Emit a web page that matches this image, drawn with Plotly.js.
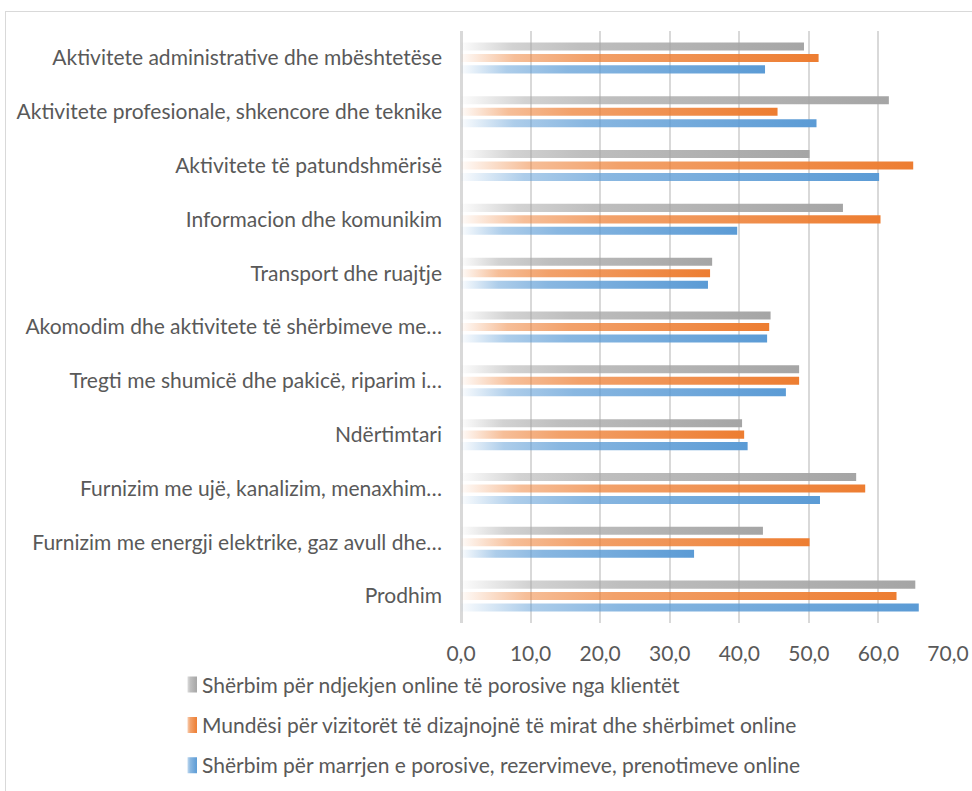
<!DOCTYPE html>
<html>
<head>
<meta charset="utf-8">
<script src="https://cdn.plot.ly/plotly-3.0.1.min.js"></script>
<style>
  html, body { margin: 0; padding: 0; background: #fff; }
  #wrap { position: relative; width: 972px; height: 791px; }
  #chart { width: 972px; height: 791px; }
  #frame { position: absolute; left: 5px; top: 11px; right: -2px; bottom: -2px;
           border-left: 1.5px solid #d9d9d9; border-top: 1.5px solid #d9d9d9; pointer-events: none; }
</style>
</head>
<body>
<div id="wrap">
  <div id="chart"></div>
  <div id="frame"></div>
</div>
<script>
// Categories listed bottom to top (as in the source chart)
const categories = [
  "Prodhim",
  "Furnizim me energji elektrike, gaz avull dhe…",
  "Furnizim me ujë, kanalizim, menaxhim…",
  "Ndërtimtari",
  "Tregti me shumicë dhe pakicë, riparim i…",
  "Akomodim dhe aktivitete të shërbimeve me…",
  "Transport dhe ruajtje",
  "Informacion dhe komunikim",
  "Aktivitete të patundshmërisë",
  "Aktivitete profesionale, shkencore dhe teknike",
  "Aktivitete administrative dhe mbështetëse"
];

const seriesNames = [
  "Shërbim për marrjen e porosive, rezervimeve, prenotimeve online",
  "Mundësi për vizitorët të dizajnojnë të mirat dhe shërbimet online",
  "Shërbim për ndjekjen online të porosive nga klientët"
];

const orderBooking = [65.8, 33.5, 51.6, 41.2, 46.7, 44.0, 35.5, 39.7, 60.1, 51.1, 43.7];
const designOnline = [62.6, 50.1, 58.1, 40.7, 48.6, 44.3, 35.8, 60.3, 65.0, 45.5, 51.4];
const trackOrders  = [65.3, 43.4, 56.8, 40.4, 48.6, 44.5, 36.1, 54.9, 50.1, 61.5, 49.3];

const xTicks = [0, 10, 20, 30, 40, 50, 60, 70];

const colors = ["#5b9bd5", "#ed7d31", "#a5a5a5"];
const values = [orderBooking, designOnline, trackOrders];

const traces = values.map((v, i) => ({
  type: "bar",
  orientation: "h",
  name: seriesNames[i],
  x: v,
  y: categories,
  legendgroup: "g" + i,
  legendrank: 1000 - i,
  marker: { color: colors[i], line: { width: 0 } },
  hoverinfo: "skip"
}));

const font = { family: "Lato, 'Open Sans', sans-serif", size: 21, color: "#595959" };

const layout = {
  width: 972,
  height: 791,
  margin: { l: 461, r: 24, t: 31, b: 168, autoexpand: false },
  paper_bgcolor: "#ffffff",
  plot_bgcolor: "#ffffff",
  font: font,
  barmode: "group",
  bargap: 0.36,
  bargroupgap: 0.3,
  separators: ",.",
  showlegend: true,
  legend: {
    x: -0.614, xanchor: "left",
    y: -0.07, yanchor: "top",
    orientation: "v",
    traceorder: "grouped",
    tracegroupgap: 10,
    font: font,
    itemwidth: 30
  },
  xaxis: {
    range: [0, 70],
    tickvals: xTicks,
    tickformat: ".1f",
    showgrid: true,
    gridcolor: "#d9d9d9",
    gridwidth: 2,
    zeroline: true,
    zerolinecolor: "#d9d9d9",
    zerolinewidth: 3,
    showline: false,
    ticks: "",
    ticklabelstandoff: 16,
    layer: "above traces",
    tickfont: font,
    fixedrange: true
  },
  yaxis: {
    type: "category",
    categoryorder: "array",
    categoryarray: categories,
    showgrid: false,
    zeroline: false,
    showline: false,
    ticks: "",
    ticklabelstandoff: 18,
    tickfont: font,
    fixedrange: true
  }
};

Plotly.newPlot("chart", traces, layout, { staticPlot: true, displayModeBar: false }).then(function (gd) {
  applyGradients(gd);
});

function applyGradients(gd) {
  const svgNS = "http://www.w3.org/2000/svg";
  const svg = gd.querySelector("svg.main-svg");
  const defs = document.createElementNS(svgNS, "defs");
  const stops = [[0, 0.03], [0.15, 0.5], [0.35, 0.72], [1, 1]];
  colors.forEach((c, i) => {
    const g = document.createElementNS(svgNS, "linearGradient");
    g.setAttribute("id", "barGrad" + i);
    g.setAttribute("x1", "0"); g.setAttribute("y1", "0");
    g.setAttribute("x2", "1"); g.setAttribute("y2", "0");
    stops.forEach(s => {
      const st = document.createElementNS(svgNS, "stop");
      st.setAttribute("offset", s[0]);
      st.setAttribute("stop-color", c);
      st.setAttribute("stop-opacity", s[1]);
      g.appendChild(st);
    });
    defs.appendChild(g);
  });
  svg.insertBefore(defs, svg.firstChild);

  const traceGroups = gd.querySelectorAll(".barlayer .trace");
  traceGroups.forEach((tg, i) => {
    tg.querySelectorAll("path").forEach(p => { p.style.fill = "url(#barGrad" + i + ")"; p.style.fillOpacity = 1; });
  });
  gd.querySelectorAll(".legend .traces").forEach(t => {
    const txt = t.querySelector("text.legendtext");
    const idx = seriesNames.indexOf(txt ? txt.textContent : "");
    if (idx < 0) return;
    t.querySelectorAll(".legendpoints path").forEach(p => {
      p.style.fill = "url(#barGrad" + idx + ")";
      p.setAttribute("d", "M15,8H5V-8H15Z");
    });
  });
}
</script>
</body>
</html>
